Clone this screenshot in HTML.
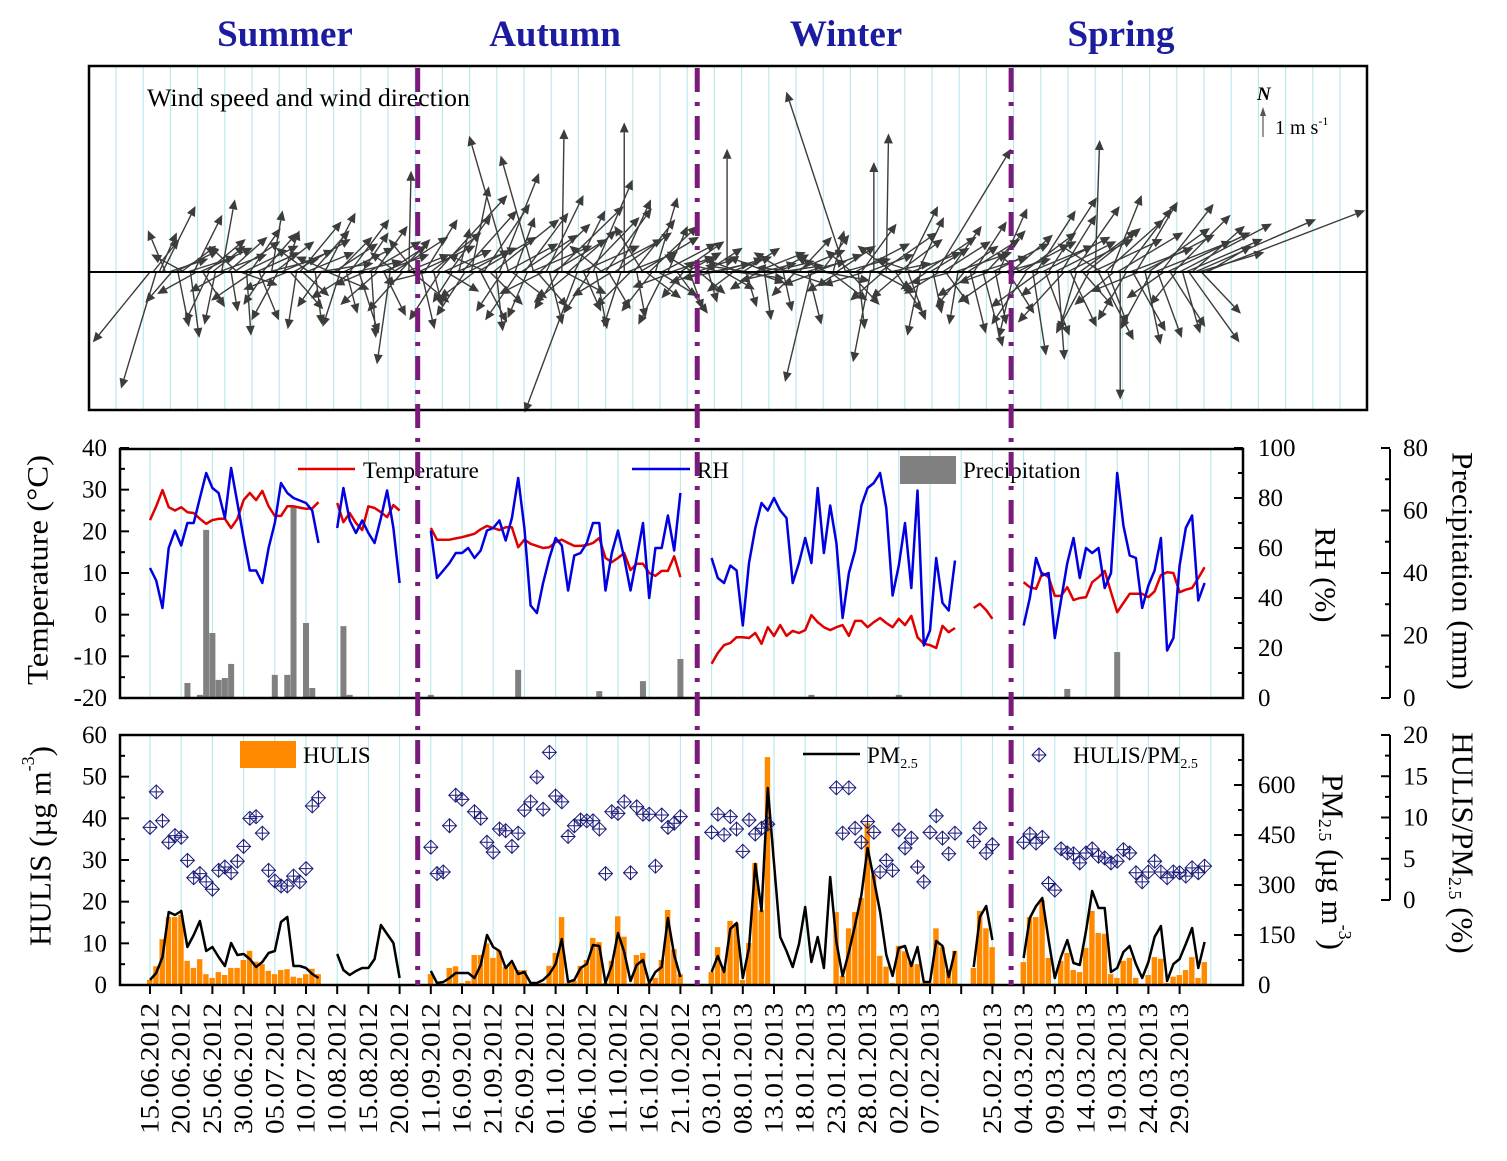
<!DOCTYPE html>
<html>
<head>
<meta charset="utf-8">
<style>
html,body{margin:0;padding:0;background:#fff;}
svg{display:block;font-family:"Liberation Serif",serif;}
</style>
</head>
<body>
<svg id="chart" xmlns="http://www.w3.org/2000/svg" width="1507" height="1161" viewBox="0 0 1507 1161">
  <rect x="0" y="0" width="1507" height="1161" fill="#fff"/>
  <g font-weight="bold" font-size="37" fill="#1c1ca0" text-anchor="middle">
    <text x="285" y="46">Summer</text>
    <text x="555" y="46">Autumn</text>
    <text x="846" y="46">Winter</text>
    <text x="1121" y="46">Spring</text>
  </g>
  <g id="grids"></g>
  <g id="wind"></g>
  <g id="met"></g>
  <g id="chem"></g>
  <g id="axes"></g>

  <rect x="89" y="66" width="1278" height="344" fill="none" stroke="#000" stroke-width="2.5"/>
  <line x1="89" y1="272" x2="1367" y2="272" stroke="#000" stroke-width="2"/>
  <rect x="120" y="449" width="1123" height="249" fill="none" stroke="#000" stroke-width="2.5"/>
  <rect x="120" y="735" width="1123" height="250" fill="none" stroke="#000" stroke-width="2.5"/>
  <line x1="1390" y1="449" x2="1390" y2="698" stroke="#000" stroke-width="2"/>
  <line x1="1390" y1="735" x2="1390" y2="900" stroke="#000" stroke-width="2"/>

  <text x="147" y="106" font-size="25" textLength="323" lengthAdjust="spacingAndGlyphs">Wind speed and wind direction</text>
  <g>
    <text x="1257" y="100" font-size="19" font-weight="bold" font-style="italic">N</text>
    <line x1="1263" y1="137" x2="1263" y2="114" stroke="#555" stroke-width="1.2"/>
    <polygon points="1263,107 1260,116 1266,116" fill="#555"/>
    <text x="1275" y="134" font-size="20">1 m s<tspan font-size="12" dy="-9">-1</tspan></text>
  </g>

  <text transform="translate(38,570) rotate(-90)" text-anchor="middle" dominant-baseline="central" font-size="30" textLength="230" lengthAdjust="spacingAndGlyphs">Temperature (°C)</text>
  <text transform="translate(1325,575) rotate(90)" text-anchor="middle" dominant-baseline="central" font-size="30" textLength="95" lengthAdjust="spacingAndGlyphs">RH (%)</text>
  <text transform="translate(1462,571) rotate(90)" text-anchor="middle" dominant-baseline="central" font-size="30" textLength="238" lengthAdjust="spacingAndGlyphs">Precipitation (mm)</text>
  <text transform="translate(40,846) rotate(-90)" text-anchor="middle" dominant-baseline="central" font-size="31">HULIS (µg m<tspan font-size="18" dy="-12">-3</tspan><tspan dy="12">)</tspan></text>
  <text transform="translate(1333,862) rotate(90)" text-anchor="middle" dominant-baseline="central" font-size="31">PM<tspan font-size="18" dy="8">2.5</tspan><tspan dy="-8"> (µg m</tspan><tspan font-size="18" dy="-12">-3</tspan><tspan dy="12">)</tspan></text>
  <text transform="translate(1463,843) rotate(90)" text-anchor="middle" dominant-baseline="central" font-size="31">HULIS/PM<tspan font-size="18" dy="8">2.5</tspan><tspan dy="-8"> (%)</tspan></text>

  <g font-size="23">
    <line x1="298" y1="469" x2="355" y2="469" stroke="#e00000" stroke-width="2.5"/>
    <text x="363" y="478">Temperature</text>
    <line x1="632" y1="469" x2="690" y2="469" stroke="#0000e0" stroke-width="2.5"/>
    <text x="697" y="478">RH</text>
    <rect x="900" y="456" width="56" height="28" fill="#808080"/>
    <text x="963" y="478">Precipitation</text>
  </g>
  <g font-size="23">
    <rect x="240" y="741" width="56" height="27" fill="#ff8a00"/>
    <text x="303" y="763">HULIS</text>
    <line x1="803" y1="754" x2="860" y2="754" stroke="#000" stroke-width="2.5"/>
    <text x="867" y="763">PM<tspan font-size="14" dy="5">2.5</tspan></text>
    <g stroke="#1a1a7a" stroke-width="1" fill="none">
      <path d="M1039,748 L1046,755 L1039,762 L1032,755 Z M1032,755 H1046 M1039,748 V762"/>
    </g>
    <text x="1073" y="763">HULIS/PM<tspan font-size="14" dy="5">2.5</tspan></text>
  </g>

  <g id="seasonlines"></g>
</svg>

<script>
// ---------- data ----------
const xTickLabels = ["15.06.2012","20.06.2012","25.06.2012","30.06.2012","05.07.2012","10.07.2012","10.08.2012","15.08.2012","20.08.2012","11.09.2012","16.09.2012","21.09.2012","26.09.2012","01.10.2012","06.10.2012","11.10.2012","16.10.2012","21.10.2012","03.01.2013","08.01.2013","13.01.2013","18.01.2013","23.01.2013","28.01.2013","02.02.2013","07.02.2013","","25.02.2013","04.03.2013","09.03.2013","14.03.2013","19.03.2013","24.03.2013","29.03.2013"];
const seasonDividerIdx = [42.9, 87.7, 138.0];

const tempStarts = [0,30,45,90,132,140];
const tempVals = [
 [22.7,26,29.9,25.8,25,25.8,24.6,24.4,23,21.8,22.7,23,23,20.8,23,27.5,29.2,27.5,29.7,26,23.7,23.7,26,26,25.7,25.4,25.5,27],
 [26.8,22.2,24.4,22,20.3,26,25.6,24.6,23.4,26.3,25],
 [20.8,18,18,18,18.3,18.6,19,19.4,20.5,21.3,20.8,20.3,21,21,16.2,18,17,16.5,16,16.2,17.4,18,17.2,16.5,16.5,16.7,17.2,18.4,13.6,12.6,13.6,14.8,10.7,12.2,12.2,10,9.3,10.5,10.5,14,9],
 [-11.8,-9.2,-7.3,-6.8,-5.4,-5.4,-5.6,-4.4,-7,-3,-5.1,-2.5,-5.1,-3.9,-4.4,-3.7,-0.1,-1.8,-3,-3.7,-3,-2.5,-5.1,-1.5,-1.5,-3,-1.8,-0.8,-2,-3,-1,-2.5,-0.3,-5.4,-7,-7.3,-8,-2.7,-4.2,-3.2],
 [1.6,2.6,1.1,-1],
 [7.8,6.6,6.2,10,9,4.5,4.5,6.6,3.5,4,4.2,7.8,9,10.5,5.4,0.6,2.8,5,5,5,4.2,5.6,9.5,10.2,10,5.4,6,6.4,8.8,11.4]
];
const rhStarts = [0,30,45,90,140];
const rhVals = [
 [52,47,36,60,67,61,70,70,80,90,84,82,72,92,78,64,51,51,46,60,70,86,82,80,79,78,75,62],
 [68,84,71,66,71,66,62,72,83,68,46],
 [67,48,51,54,58,58,60,56,59,67,68,71,63,72,88,68,37,34,46,56,64,61,43,57,58,62,70,70,43,58,67,56,43,56,70,40,60,60,73,59,82],
 [56,48,46,53,51,29,54,68,78,75,80,75,72,46,54,64,54,84,58,77,62,32,50,59,77,84,86,90,76,41,53,70,44,83,21,27,56,38,35,55],
 [29,40,56,49,50,24,39,54,64,48,60,58,60,44,50,90,69,57,56,36,45,51,64,19,24,53,68,73,39,46]
];
const precipIdx = [6,8,9,10,11,12,13,20,22,23,25,26,31,32,45,59,72,79,85,106,120,147,155];
const precipVals = [4.8,1,53.8,20.8,5.8,6.4,10.9,7.4,7.4,61,24,3.2,23,1,1,9,2.2,5.4,12.5,1,1,2.9,14.7];

const hulisStarts = [0,45,90,132,140];
const hulisVals = [
 [1.2,4.5,11,16.3,16.3,16.8,5.8,4.1,6.2,2.6,1.7,3.1,2.4,4.1,4.1,6,8.2,5.6,5,3.4,2.6,3.6,3.8,2,1.7,2.6,3.9,2.6],
 [2.6,0.3,0.3,4.1,4.5,0.5,1,7.2,7.2,10,6.5,8.2,4.4,5,3.6,3.6,0.3,0.3,0.5,4.6,7.7,16.3,0.5,1,4.6,6,11.3,10.3,0.5,5.8,16.5,11.6,0.3,7.2,7.7,0.5,1.7,6,18,8.6,2.6],
 [3.1,9.1,4.3,15.4,14.8,1.2,10.1,29.3,18,54.7,null,null,null,null,null,null,null,null,null,null,17.5,2.2,13.6,17.5,20.9,38.8,26.4,7,4.4,0.5,9.4,8.1,5.5,5,0.5,0.5,13.6,9.1,3.6,8.2],
 [4.1,17.8,13.6,9.1],
 [5.5,16.3,16.3,20.4,6.5,0.3,5.8,7.7,3.6,3.1,8.9,17.8,12.5,12.3,2.6,1.7,5.8,6.5,1.7,0.3,2.4,6.7,6.3,0.5,2,2.4,3.6,6.7,1.7,5.5]
];
const pmStarts = [0,30,45,90,132,140];
const pmVals = [
 [15,36,84,219,210,222,114,150,192,102,114,84,57,126,90,93,78,54,69,96,102,189,204,57,57,51,33,21],
 [93,45,30,42,51,51,78,180,153,126,21],
 [42,6,9,21,36,36,36,21,60,150,114,102,51,72,33,39,6,6,15,33,63,138,9,15,51,63,120,117,6,60,156,99,12,60,75,6,39,54,201,90,24],
 [39,87,39,168,186,21,111,363,222,591,366,144,102,54,123,234,69,144,51,324,129,27,99,180,270,411,318,219,90,27,111,117,57,114,9,9,132,117,24,102],
 [54,204,237,135],
 [81,201,237,261,135,21,84,135,66,60,162,282,231,231,39,51,99,117,63,21,69,144,177,12,63,78,123,171,51,129]
];
const ratioStarts = [0,45,90,132,140];
const ratioVals = [
 [8.8,13.1,9.6,7,7.8,7.6,4.8,2.7,3.2,2.2,1.3,3.6,4,3.3,4.7,6.5,9.9,10.1,8.1,3.6,2.3,1.7,1.7,2.9,2.2,3.8,11.4,12.4],
 [6.4,3.2,3.4,9,12.7,12.2,null,10.7,9.9,7,5.8,8.6,8.4,6.5,8.1,10.9,11.9,14.9,11,17.9,12.6,11.9,7.7,9,9.7,9.6,9.6,8.6,3.2,10.7,10.5,11.9,3.3,11.3,10.4,10.4,4.1,10.3,8.8,9.3,10.1],
 [8.2,10.4,7.9,10.1,8.6,5.9,9.7,8,8.7,9.2,null,null,null,null,null,null,null,null,null,null,13.6,8.1,13.6,8.7,7,9.5,8.2,3.4,4.8,3.6,8.5,6.3,7.5,4,2.2,8.2,10.2,7.5,5.6,8.1],
 [7.1,8.7,5.7,6.7],
 [7,8,6.9,7.6,2,1.2,6.2,5.7,5.6,4.5,5.7,6.2,5.3,5.1,4.5,4.7,6.1,5.7,3.3,2.2,3.4,4.7,3.4,2.7,3.4,3.3,2.9,3.9,3.3,4.1]
];

// wind vectors [u, v] in m/s, two per day index, in blocks of 10 days
const windBlocks = [
 [[-2.6,-3.2],[1.2,1.5],[-1.6,-5.3],[0.8,1.8],[1.5,3],[-0.8,1.9],[1.8,0.6],[-1.2,-1.4],[2,1],[0.5,-2.5],[1.6,1.2],[-1.5,0.8],[2.2,0.7],[0.4,-3],[1.3,2.6],[-1.8,-1],[2.4,1.1],[1,-1.6],[1.8,1.5],[-1.1,-2.3]],
 [[1.5,1.2],[-0.5,-2.4],[2.2,0.8],[0.6,3.3],[-1.6,-0.9],[1.8,1.6],[0.3,-1.8],[2.1,1.4],[-1.3,1.2],[1.7,-0.6],[2.5,1.2],[0.2,-2.9],[1.4,2],[-1.9,-1.3],[2,0.9],[0.9,-2.2],[1.6,1.8],[-1,-1.5],[2.3,0.6],[0.5,2.8]],
 [[1.8,1.4],[-1.2,-2.2],[2.4,1],[0.7,1.9],[-2,-0.8],[1.5,-1.7],[2.6,1.5],[-0.4,-2.6],[1.9,2.3],[1.2,-1.1],[2.2,0.9],[-1.5,1.1],[1.7,1.9],[0.3,-2.4],[2.5,0.4],[-1.1,-1.6],[1.4,2.7],[1.9,-0.8],[-1.6,0.7],[2,1.3]],
 [[1.6,1.6],[-0.8,-2.5],[2.3,1.1],[0.5,-1.9],[1.8,2.4],[-1.9,-1.2],[2.1,0.5],[0.9,-2.8],[1.2,1.8],[-1.4,-0.6],[2.4,1.4],[0.2,-3],[1.5,2.1],[-1.7,-1.5],[2.2,0.8],[1,-2],[1.8,1.2],[-0.6,-4.2],[2.5,1.6],[-1.2,0.9]],
 [[1.4,1.5],[-1.6,-1.8],[2,0.8],[0.1,4.6],[1.7,-1.4],[-1.2,1.5],[2.6,1.2],[0.6,-2.6],[1.5,2.4],[-2,-0.5],[2.3,1.8],[0.4,-1.6],[3.2,3.5],[-1.4,-2.2],[2.2,1],[1.5,-0.9],[1.9,2.6],[-0.9,-1.4],[2.8,1.1],[0.5,2]],
 [[2.5,2.8],[-1.3,-2],[1.9,1],[0.8,3.9],[-1.6,-1.2],[2.7,1.6],[1.2,-2.3],[2.1,3.1],[-1.8,0.8],[1.5,-1.5],[3,2.4],[0.3,-2.7],[1.8,4.5],[-1.2,-1.8],[2.4,1.3],[-1.8,6.2],[1.6,-1.2],[0.9,2.5],[-1.5,-2.2],[2.6,1.7]],
 [[2,2.7],[-0.9,-2.1],[2.8,1.2],[-1.5,5.3],[1.4,-1.6],[2.3,2.2],[-2,-1],[1.7,3.5],[0.6,-2.4],[2.5,1.5],[3.1,3],[-1.1,-1.7],[0.1,6.5],[1.9,-1],[2.2,1.9],[-1.7,-1.4],[1.4,2.8],[-2.4,-6.4],[2.7,1.2],[0.8,-1.8]],
 [[2.4,2.5],[-1.2,-1.9],[1.8,4.2],[0.5,-2.6],[2.9,1.5],[-1.5,1.2],[2.1,2.9],[1,-1.7],[-1.8,-1.1],[2.6,1.8],[1.5,3.3],[-0.8,-2.5],[0,6.8],[2.3,0.9],[-1.6,-1.6],[1.9,2.4],[0.4,-2.1],[2.7,1.6],[-1.3,2.1],[1.6,-1.2]],
 [[2.2,2.1],[-1.4,-1.8],[1,3.4],[1.8,-1.1],[2.5,1.3],[-1.2,-2.4],[0.9,2.1],[2,0.7],[-1.9,-0.7],[1.4,-1.9],[2,1.4],[-1,-1.2],[1.6,0.9],[0.6,-1.7],[-1.3,0.8],[1.8,0.6],[1.2,-1],[-1.5,-0.5],[1.7,1.1],[0.4,-1.4]],
 [[1.8,0.4],[-1.5,-0.3],[2.1,0.6],[-1.7,0.4],[1.4,-0.8],[0,5.6],[1.9,0.7],[-1.2,-0.9],[2.2,-0.3],[-1.6,0.6],[1.7,1.1],[0.5,-1.6],[-2,0.3],[1.5,-0.5],[2.3,0.9],[-1.3,-0.8],[1.6,0.4],[0.3,-2.2],[-1.8,0.7],[2,0.5]],
 [[1.6,0.8],[-1.7,-0.4],[2,0.3],[0.4,-1.8],[-1.5,0.9],[1.8,-0.6],[2.4,1],[-1.1,-1.1],[1.5,1.6],[-2.1,0.2],[1.9,0.5],[0.6,-2.4],[-1.2,-5],[2.2,0.8],[-1.6,-0.6],[1.3,1.7],[2.1,-0.4],[-1.4,0.7],[1.7,-1.3],[0.5,1.9]],
 [[1.8,1.2],[-1.5,-0.9],[2.2,0.6],[-2.7,8.2],[1.4,-1.5],[-1.2,1],[2.5,1.3],[0.3,-2.6],[1.6,2.2],[-1.9,-0.6],[2.1,0.8],[-0.8,-4.1],[0,5],[1.7,-0.9],[2.6,1.8],[-1.5,-1.3],[0.1,6.3],[1.9,0.4],[-1.6,1.2],[1.2,-1.8]],
 [[2,1.5],[-1.4,-1.2],[1.5,3],[0.8,-2.2],[2.3,0.9],[-1.8,0.6],[1.2,2.5],[-0.6,-2.9],[2.4,1.6],[-1.2,-0.8],[1.8,1.1],[0.4,-1.9],[3.4,5.6],[-1.6,-1],[2.2,1.4],[1.1,-1.5],[1.5,2.1],[-1.9,-0.5],[2.6,0.9],[-0.4,-2.4]],
 [[1.7,1.2],[-1.3,-1.6],[2.4,1.5],[0.7,-2.8],[1.5,2.3],[-1.8,-1.1],[2.2,0.7],[0.9,-3.4],[1.8,1.9],[-1.4,-0.5],[2.6,1.3],[0.5,-2.4],[1.3,2.9],[-2,-1.4],[2.1,0.6],[1.2,-1.9],[1.9,1.7],[-0.7,-3],[2.7,1.4],[-1.1,0.9]],
 [[2.4,1.8],[-1.6,-2.4],[2.9,1.2],[0.6,-3.8],[1.8,2.8],[-2.2,-1.6],[3.1,1.6],[1.1,-2.9],[2.2,3.4],[-1.4,-1.1],[2.8,1.4],[0.3,-4],[1.6,2.6],[-2.1,-2.3],[3,1.5],[1.2,-2.5],[2.1,3],[-0.8,-2.7],[2.6,1.9],[1.4,-1.6]],
 [[2.5,2],[-1.5,-2.8],[3.2,1.5],[0.2,6],[1.6,-3.1],[-2,1.3],[2.7,2.4],[0.9,-2.4],[1.4,3.5],[-1.8,-1.5],[3,1.8],[0,-5.8],[2.2,2.9],[-1.3,-2.2],[2.9,1.1],[1.5,-2.7],[1.9,3.2],[-2.2,-0.9],[3.3,1.7],[0.7,-3.3]],
 [[2.8,2],[-1.4,-2.6],[3.5,1.4],[1.1,-3],[2.4,3.1],[-1.7,-1.2],[3.8,1.8],[1.6,-2.5],[2.6,2.6],[-1.2,-1.5],[4.2,2.2],[0.8,-2.8],[3.5,1.5],[2.3,-3.2],[2.4,2.1],[5.5,2.4],[3,0.9],[1.8,-1.9],[7.3,2.8],[2,1.2]]
];

// ---------- scales ----------
const NS = "http://www.w3.org/2000/svg";
const X0 = 150, DX = 6.24;
const xIdx = i => X0 + i * DX;
const yTemp = t => 698 - (t + 20) * 250 / 60;
const yRH = r => 698 - r * 2.5;
const yPrecip = p => 698 - p * 250 / 80;
const yHulis = h => 985 - h * 250 / 60;
const yPM = p => 985 - p / 3;
const yRatio = r => 900 - r * 8.25;
const windScale = 22, windY = 272;

function mk(tag, attrs, parent) {
  const el = document.createElementNS(NS, tag);
  for (const k in attrs) el.setAttribute(k, attrs[k]);
  parent.appendChild(el);
  return el;
}
const gGrid = document.getElementById('grids');
const gWind = document.getElementById('wind');
const gMet = document.getElementById('met');
const gChem = document.getElementById('chem');
const gAxes = document.getElementById('axes');
const gSeason = document.getElementById('seasonlines');

// ---------- grids ----------
for (let x = 116; x < 1366; x += 27.2) {
  const el = mk('line', {x1: x, y1: 67, x2: x, y2: 409, stroke: '#aee6ea', 'stroke-width': 1}, gGrid);
  
  
}
for (let k = 0; k < 36; k++) {
  const x = xIdx(k * 5);
  if (x >= 1242) break;
  for (const [a, b] of [[450, 697], [736, 984]]) {
    const el = mk('line', {x1: x, y1: a, x2: x, y2: b, stroke: '#aee6ea', 'stroke-width': 1}, gGrid);
    
    
  }
}

// ---------- wind ----------
windBlocks.forEach((blk, b) => {
  blk.forEach((uv, j) => {
    const i = b * 10 + Math.floor(j / 2);
    const x0 = xIdx(i) + (j % 2) * 3;
    const x1 = x0 + uv[0] * windScale, y1 = windY - uv[1] * windScale;
    const len = Math.hypot(x1 - x0, y1 - windY) || 1;
    const ux = (x1 - x0) / len, uy = (y1 - windY) / len;
    const hl = 10, hw = 4.5;
    const bx = x1 - ux * hl, by = y1 - uy * hl;
    const line = mk('line', {x1: x0, y1: windY, x2: bx, y2: by, stroke: '#3c3c3c', 'stroke-width': 1.4}, gWind);
    
    
    const head = mk('polygon', {points: `${x1},${y1} ${bx - uy * hw},${by + ux * hw} ${bx + uy * hw},${by - ux * hw}`, fill: '#3c3c3c'}, gWind);
    
    
  });
});

// ---------- series helpers ----------
function linePath(starts, vals, yf) {
  let d = '';
  starts.forEach((s, k) => {
    let pen = false;
    vals[k].forEach((v, j) => {
      if (v === null) { pen = false; return; }
      d += (pen ? 'L' : 'M') + xIdx(s + j).toFixed(1) + ',' + yf(v).toFixed(1);
      pen = true;
    });
  });
  return d;
}

precipIdx.forEach((i, k) => {
  const y = yPrecip(precipVals[k]);
  const el = mk('rect', {x: xIdx(i) - 3, y: y, width: 6, height: 698 - y, fill: '#808080'}, gMet);
  
  
});
const tLine = mk('path', {d: linePath(tempStarts, tempVals, yTemp), fill: 'none', stroke: '#e00000', 'stroke-width': 2.5, 'stroke-linejoin': 'round'}, gMet);


const rhLine = mk('path', {d: linePath(rhStarts, rhVals, yRH), fill: 'none', stroke: '#0000e0', 'stroke-width': 2.5, 'stroke-linejoin': 'round'}, gMet);



hulisStarts.forEach((s, k) => {
  hulisVals[k].forEach((v, j) => {
    if (v === null) return;
    const y = yHulis(v);
    const el = mk('rect', {x: xIdx(s + j) - 3, y: y, width: DX - 0.8, height: 985 - y, fill: '#ff8a00'}, gChem);
    
    
  });
});
const pmLine = mk('path', {d: linePath(pmStarts, pmVals, yPM), fill: 'none', stroke: '#000', 'stroke-width': 2.5, 'stroke-linejoin': 'round'}, gChem);


ratioStarts.forEach((s, k) => {
  ratioVals[k].forEach((v, j) => {
    if (v === null) return;
    const x = xIdx(s + j), y = yRatio(v);
    const el = mk('path', {d: `M${x},${y - 7}L${x + 7},${y}L${x},${y + 7}L${x - 7},${y}Z M${x - 7},${y}H${x + 7}M${x},${y - 7}V${y + 7}`, fill: 'none', stroke: '#1a1a7a', 'stroke-width': 1}, gChem);
    
    
  });
});

// ---------- axes ----------
function tick(x1, y1, x2, y2) {
  const el = mk('line', {x1, y1, x2, y2, stroke: '#000', 'stroke-width': 2}, gAxes);
  
  
}
function label(x, y, txt, anchor, size) {
  const el = mk('text', {x, y, 'text-anchor': anchor, 'font-size': size || 25}, gAxes);
  el.textContent = txt;
  
  
}
const tempTicks = [-20,-10,0,10,20,30,40];
tempTicks.forEach(t => { tick(120, yTemp(t), 129, yTemp(t)); label(107, yTemp(t) + 8, String(t), 'end'); });
for (let t = -15; t < 40; t += 10) tick(120, yTemp(t), 125, yTemp(t));
const rhTicks = [0,20,40,60,80,100];
rhTicks.forEach(r => { tick(1243, yRH(r), 1234, yRH(r)); label(1258, yRH(r) + 8, String(r), 'start'); });
for (let r = 10; r < 100; r += 20) tick(1243, yRH(r), 1238, yRH(r));
const precipTicks = [0,20,40,60,80];
precipTicks.forEach(p => { tick(1390, yPrecip(p), 1381, yPrecip(p)); label(1403, yPrecip(p) + 8, String(p), 'start'); });
for (let p = 10; p < 80; p += 20) tick(1390, yPrecip(p), 1385, yPrecip(p));
const hulisTicks = [0,10,20,30,40,50,60];
hulisTicks.forEach(h => { tick(120, yHulis(h), 129, yHulis(h)); label(107, yHulis(h) + 8, String(h), 'end'); });
for (let h = 5; h < 60; h += 10) tick(120, yHulis(h), 125, yHulis(h));
const pmTicks = [0,150,300,450,600];
pmTicks.forEach(p => { tick(1243, yPM(p), 1234, yPM(p)); label(1258, yPM(p) + 8, String(p), 'start'); });
for (let p = 75; p < 750; p += 150) tick(1243, yPM(p), 1238, yPM(p));
const ratioTicks = [0,5,10,15,20];
ratioTicks.forEach(r => { tick(1390, yRatio(r), 1381, yRatio(r)); label(1403, yRatio(r) + 8, String(r), 'start'); });
for (let r = 2.5; r < 20; r += 5) tick(1390, yRatio(r), 1385, yRatio(r));

xTickLabels.forEach((lab, k) => {
  const x = xIdx(k * 5);
  tick(x, 985, x, 994);
  if (!lab) return;
  const el = mk('text', {transform: `translate(${x},1003) rotate(-90)`, 'text-anchor': 'end', 'dominant-baseline': 'central', 'font-size': 26, textLength: 131, lengthAdjust: 'spacingAndGlyphs'}, gAxes);
  el.textContent = lab;
  
  
});

seasonDividerIdx.forEach(i => {
  const x = xIdx(i);
  const el = mk('line', {x1: x, y1: 68, x2: x, y2: 985, stroke: '#7a1a7a', 'stroke-width': 5, 'stroke-dasharray': '24 10 4 10'}, gSeason);
  
  
});
</script>
</body>
</html>
